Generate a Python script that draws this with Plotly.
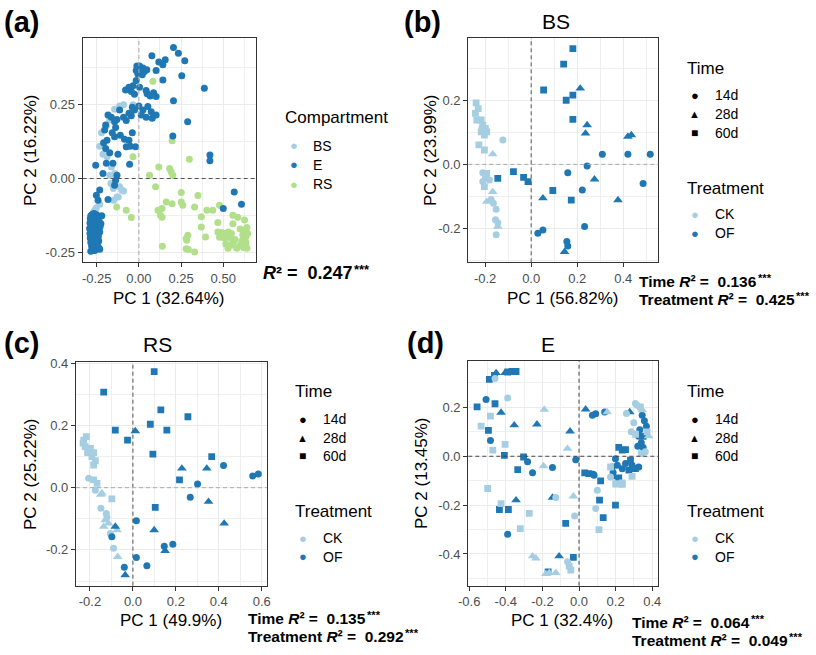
import plotly.graph_objects as go

W, H = 816, 655
FONT = "Liberation Sans, Arial, sans-serif"
C_LIGHT = "#A6CEE3"
C_DARK = "#1F78B4"
C_GREEN = "#B2DF8A"

# ---------------- Panel (a): all compartments ----------------
a_BS = [(-0.144, 0.233), (-0.091, 0.248), (-0.114, 0.244), (-0.035, 0.248), (-0.173, 0.197),
        (-0.193, 0.177), (-0.222, 0.154), (-0.232, 0.109), (-0.213, 0.082), (-0.189, 0.073),
        (-0.163, 0.039), (-0.144, 0.017), (-0.172, 0.011), (-0.166, -0.017), (-0.152, -0.034),
        (-0.114, -0.028), (-0.102, -0.039), (-0.091, -0.042), (-0.122, -0.062), (-0.130, -0.062),
        (-0.150, -0.073), (-0.232, -0.087), (-0.252, -0.098), (-0.261, -0.107), (-0.271, -0.118),
        (-0.268, -0.113), (-0.262, -0.135), (-0.276, -0.186), (-0.262, -0.242), (-0.236, -0.233),
        (-0.276, -0.236)]
a_E = [(0.205, 0.441), (0.234, 0.422), (0.272, 0.396), (0.077, 0.413), (0.118, 0.392), (0.156, 0.400),
       (0.142, 0.383), (0.102, 0.364), (-0.012, 0.379), (0.004, 0.379), (0.024, 0.372), (-0.016, 0.364),
       (0.008, 0.364), (0.033, 0.360), (-0.006, 0.352), (0.020, 0.349), (0.047, 0.366), (0.254, 0.346),
       (0.142, 0.332), (-0.016, 0.330), (-0.035, 0.312), (-0.059, 0.307), (-0.079, 0.298), (-0.045, 0.293),
       (-0.026, 0.284), (0.004, 0.307), (0.043, 0.296), (0.049, 0.285), (0.067, 0.278), (0.087, 0.289),
       (0.102, 0.276), (0.388, 0.304), (0.205, 0.262), (0.000, 0.244), (0.024, 0.231), (0.053, 0.242),
       (0.073, 0.225), (0.102, 0.214), (0.079, 0.203), (0.043, 0.206), (0.014, 0.214), (-0.026, 0.231),
       (-0.039, 0.240), (-0.059, 0.220), (-0.045, 0.211), (-0.075, 0.195), (-0.091, 0.206), (-0.114, 0.231),
       (-0.130, 0.199), (-0.144, 0.191), (-0.163, 0.206), (-0.183, 0.214), (0.289, 0.191), (0.201, 0.143),
       (0.421, 0.079), (0.421, 0.060), (-0.197, 0.180), (-0.203, 0.163), (-0.158, 0.154), (-0.144, 0.141),
       (-0.138, 0.172), (-0.110, 0.146), (-0.085, 0.132), (-0.075, 0.107), (-0.051, 0.109), (-0.020, 0.107),
       (-0.039, 0.154), (-0.059, 0.129), (-0.189, 0.129), (-0.209, 0.120), (-0.197, 0.101), (-0.173, 0.087),
       (-0.124, 0.082), (-0.154, 0.051), (-0.130, 0.011), (-0.193, 0.051), (-0.213, 0.017), (-0.256, 0.045),
       (-0.232, -0.039), (-0.252, -0.056), (-0.242, -0.073), (-0.183, -0.071), (-0.144, -0.023),
       (-0.138, -0.006), (-0.055, 0.048), (0.565, -0.045), (0.608, -0.087), (0.500, -0.101),
       (-0.285, -0.125), (-0.275, -0.120), (-0.265, -0.118), (-0.250, -0.122), (-0.240, -0.128),
       (-0.288, -0.135), (-0.278, -0.140), (-0.262, -0.138), (-0.248, -0.142), (-0.235, -0.145),
       (-0.290, -0.150), (-0.280, -0.155), (-0.268, -0.152), (-0.255, -0.158), (-0.242, -0.160),
       (-0.230, -0.162), (-0.292, -0.168), (-0.282, -0.172), (-0.270, -0.170), (-0.258, -0.175),
       (-0.245, -0.178), (-0.232, -0.180), (-0.290, -0.185), (-0.278, -0.188), (-0.265, -0.190),
       (-0.252, -0.192), (-0.240, -0.195), (-0.288, -0.200), (-0.275, -0.203), (-0.262, -0.205),
       (-0.250, -0.208), (-0.238, -0.210), (-0.285, -0.215), (-0.272, -0.218), (-0.260, -0.220),
       (-0.248, -0.222), (-0.280, -0.228), (-0.268, -0.232), (-0.255, -0.235), (-0.242, -0.230),
       (-0.275, -0.240), (-0.262, -0.242), (-0.232, -0.238), (-0.285, -0.245), (-0.220, -0.125),
       (-0.225, -0.152)]
a_RS = [(0.083, 0.327), (0.197, 0.127), (-0.035, 0.073), (0.299, 0.065), (0.118, 0.039), (0.182, 0.034),
        (0.191, 0.023), (0.201, 0.011), (0.063, 0.011), (0.099, -0.028), (-0.075, -0.107), (-0.045, -0.131),
        (-0.132, -0.096), (0.251, -0.047), (0.350, -0.057), (0.162, -0.079), (0.197, -0.085), (0.113, -0.107),
        (0.137, -0.101), (0.128, -0.124), (0.137, -0.130), (0.251, -0.079), (0.260, -0.090), (0.330, -0.096),
        (0.403, -0.107), (0.438, -0.107), (0.478, -0.090), (0.370, -0.129), (0.468, -0.148), (0.557, -0.124),
        (0.586, -0.130), (0.557, -0.152), (0.626, -0.140), (0.370, -0.163), (0.290, -0.191), (0.280, -0.202),
        (0.283, -0.208), (0.395, -0.197), (0.468, -0.180), (0.490, -0.182), (0.510, -0.185), (0.530, -0.180),
        (0.548, -0.185), (0.478, -0.198), (0.505, -0.200), (0.540, -0.200), (0.600, -0.170), (0.620, -0.175),
        (0.640, -0.165), (0.615, -0.190), (0.635, -0.195), (0.645, -0.185), (0.610, -0.210), (0.635, -0.215),
        (0.600, -0.225), (0.620, -0.232), (0.640, -0.235), (0.580, -0.235), (0.560, -0.215), (0.545, -0.225),
        (0.570, -0.205), (0.515, -0.220), (0.528, -0.235), (0.280, -0.236), (0.330, -0.247), (0.139, -0.228),
        (0.293, -0.239)]
a_xticks = [-0.25, 0.0, 0.25, 0.5]
a_xlabels = ["-0.25", "0.00", "0.25", "0.50"]
a_yticks = [-0.25, 0.0, 0.25]
a_ylabels = ["-0.25", "0.00", "0.25"]

# ---------------- Panel (b): BS ----------------
b_CK_14d = [(-0.213, 0.115), (-0.123, 0.076), (-0.210, -0.026), (-0.199, -0.039), (-0.210, -0.054),
            (-0.181, -0.049), (-0.174, -0.110), (-0.164, -0.122), (-0.152, -0.141), (-0.155, -0.174),
            (-0.145, -0.183), (-0.152, -0.221)]
b_CK_28d = [(-0.167, 0.032), (-0.167, -0.086), (-0.193, -0.117), (-0.145, -0.195)]
b_CK_60d = [(-0.239, 0.193), (-0.230, 0.175), (-0.242, 0.160), (-0.236, 0.139), (-0.217, 0.139),
            (-0.210, 0.123), (-0.199, 0.113), (-0.193, 0.102), (-0.217, 0.102), (-0.203, 0.092),
            (-0.227, 0.061), (-0.203, 0.045), (-0.193, -0.028), (-0.203, -0.070)]
b_OF_14d = [(0.309, 0.032), (0.420, 0.032), (0.517, 0.032), (0.243, -0.005), (0.159, -0.026),
            (0.486, -0.060), (0.222, -0.080), (0.029, -0.216), (0.051, -0.206), (0.232, -0.195),
            (0.155, -0.242), (0.159, -0.256)]
b_OF_28d = [(0.213, 0.238), (0.243, 0.123), (0.236, 0.097), (0.420, 0.087), (0.435, 0.092),
            (0.275, -0.047), (0.377, -0.112), (0.051, -0.106), (0.145, -0.274)]
b_OF_60d = [(0.181, 0.363), (0.141, 0.314), (0.054, 0.233), (0.152, 0.201), (0.181, 0.217),
            (0.181, 0.141), (0.174, -0.112), (0.094, -0.082), (-0.145, -0.044), (-0.077, -0.023),
            (-0.033, -0.041), (-0.014, -0.054)]
b_xticks = [-0.2, 0.0, 0.2, 0.4]
b_xlabels = ["-0.2", "0.0", "0.2", "0.4"]
b_yticks = [-0.2, 0.0, 0.2]
b_ylabels = ["-0.2", "0.0", "0.2"]

# ---------------- Panel (c): RS ----------------
c_CK_14d = [(-0.206, 0.030), (-0.175, -0.008), (-0.149, -0.066), (-0.124, -0.083), (-0.121, -0.094),
            (-0.105, -0.147), (-0.090, -0.195)]
c_CK_28d = [(-0.144, -0.018), (-0.150, -0.022), (-0.129, -0.104), (-0.113, -0.115), (-0.136, -0.125),
            (-0.074, -0.136), (-0.071, -0.222)]
c_CK_60d = [(-0.229, 0.153), (-0.217, 0.164), (-0.222, 0.132), (-0.198, 0.126), (-0.211, 0.113),
            (-0.183, 0.113), (-0.191, 0.100), (-0.175, 0.087), (-0.183, 0.073), (-0.232, 0.143),
            (-0.183, 0.025), (-0.167, 0.014), (-0.098, -0.036)]
c_OF_14d = [(0.422, 0.071), (0.301, 0.012), (0.267, -0.031), (0.558, 0.038), (0.584, 0.044),
            (0.016, -0.106), (-0.098, -0.158), (0.146, -0.188), (0.186, -0.182), (0.016, -0.224),
            (0.065, -0.251), (-0.040, -0.256)]
c_OF_28d = [(0.011, 0.182), (0.228, 0.062), (0.344, 0.062), (0.352, -0.045), (0.099, -0.136),
            (0.425, -0.115), (-0.082, -0.125), (0.150, -0.203), (-0.036, -0.281)]
c_OF_60d = [(0.099, 0.373), (-0.136, 0.307), (0.130, 0.250), (0.256, 0.228), (-0.082, 0.185),
            (0.081, 0.204), (0.158, 0.185), (-0.025, 0.153), (0.093, 0.108), (0.367, 0.100),
            (0.217, 0.025), (0.104, -0.063)]
c_xticks = [-0.2, 0.0, 0.2, 0.4, 0.6]
c_xlabels = ["-0.2", "0.0", "0.2", "0.4", "0.6"]
c_yticks = [-0.2, 0.0, 0.2, 0.4]
c_ylabels = ["-0.2", "0.0", "0.2", "0.4"]

# ---------------- Panel (d): E ----------------
d_CK_14d = [(-0.459, 0.318), (-0.390, 0.239), (-0.127, -0.169), (-0.024, -0.245), (0.100, -0.139),
            (0.091, -0.214), (-0.063, -0.432), (0.308, 0.216), (0.317, 0.209), (0.259, 0.175),
            (0.299, 0.137), (0.285, 0.100), (0.362, 0.018), (0.172, -0.085)]
d_CK_28d = [(-0.190, 0.191), (-0.063, 0.031), (-0.194, -0.040), (-0.031, -0.164), (-0.254, -0.409),
            (-0.236, -0.418), (-0.181, -0.482), (-0.163, -0.477), (-0.127, -0.477), (0.154, 0.181),
            (0.345, 0.189), (0.380, 0.082), (0.209, -0.119)]
d_CK_60d = [(-0.484, 0.164), (-0.535, 0.123), (-0.471, 0.025), (-0.404, 0.049), (-0.499, -0.132),
            (-0.426, -0.194), (-0.272, -0.234), (-0.321, -0.296), (-0.054, -0.450), (-0.045, -0.466),
            (0.109, -0.300), (0.172, -0.044), (0.200, -0.112), (0.236, -0.109), (0.335, 0.202),
            (0.309, 0.090), (0.372, 0.100), (0.340, 0.011), (0.290, -0.082), (0.236, -0.115)]
d_OF_14d = [(-0.508, 0.232), (-0.484, 0.065), (-0.281, -0.023), (-0.254, -0.068), (-0.145, -0.046),
            (-0.018, -0.014), (0.073, 0.168), (0.091, 0.174), (0.140, 0.181), (-0.390, -0.319),
            (0.082, -0.078), (0.078, -0.074), (0.199, -0.010), (0.345, 0.168), (0.357, 0.145),
            (0.368, 0.123), (0.332, 0.109), (0.326, 0.082), (0.340, 0.055), (0.321, 0.041),
            (0.350, 0.036), (0.290, -0.037), (0.236, -0.051), (0.181, -0.044), (0.209, -0.037),
            (0.254, -0.030), (0.186, -0.067), (0.326, -0.044)]
d_OF_28d = [(-0.453, 0.341), (-0.404, 0.341), (-0.381, 0.345), (-0.426, 0.179), (-0.354, 0.127),
            (-0.230, 0.131), (-0.049, 0.102), (0.036, 0.192), (0.277, 0.181), (-0.344, -0.180),
            (-0.145, -0.169), (-0.109, -0.409), (0.190, -0.085)]
d_OF_60d = [(-0.490, 0.315), (-0.462, 0.331), (-0.390, 0.345), (-0.363, 0.347), (-0.344, 0.347),
            (-0.557, 0.202), (-0.459, 0.215), (-0.495, 0.106), (-0.408, 0.004), (-0.303, -0.003),
            (-0.335, -0.055), (-0.435, -0.218), (-0.386, -0.218), (-0.073, -0.275), (-0.031, -0.414),
            (-0.169, -0.473), (0.217, 0.036), (0.236, 0.025), (0.254, 0.027), (0.281, -0.016),
            (0.272, -0.057), (0.308, -0.051), (0.350, 0.082), (0.217, -0.089), (0.031, -0.068),
            (0.054, -0.071), (0.118, -0.101), (0.112, -0.180), (0.132, -0.251), (0.199, -0.200)]
d_xticks = [-0.6, -0.4, -0.2, 0.0, 0.2, 0.4]
d_xlabels = ["-0.6", "-0.4", "-0.2", "0.0", "0.2", "0.4"]
d_yticks = [-0.4, -0.2, 0.0, 0.2]
d_ylabels = ["-0.4", "-0.2", "0.0", "0.2"]

time_levels = ["14d", "28d", "60d"]
treatment_levels = ["CK", "OF"]
compartment_levels = ["BS", "E", "RS"]


def px(x):
    return x / W


def py(y):
    return 1 - y / H


fig = go.Figure()


def add_pts(pts, xr, yr, color, symbol, size):
    fig.add_trace(go.Scatter(
        x=[p[0] for p in pts], y=[p[1] for p in pts], mode="markers",
        xaxis=xr, yaxis=yr, showlegend=False, hoverinfo="skip",
        marker=dict(color=color, symbol=symbol, size=size, line=dict(width=0))))


SYM = {"14d": ("circle", 7), "28d": ("triangle-up", 8.5), "60d": ("square", 6.8)}

# panel a
add_pts(a_BS, "x", "y", C_LIGHT, "circle", 7)
add_pts(a_RS, "x", "y", C_GREEN, "circle", 7)
add_pts(a_E, "x", "y", C_DARK, "circle", 7)

panel_groups = {
    ("x2", "y2"): [(b_CK_14d, b_CK_28d, b_CK_60d), (b_OF_14d, b_OF_28d, b_OF_60d)],
    ("x3", "y3"): [(c_CK_14d, c_CK_28d, c_CK_60d), (c_OF_14d, c_OF_28d, c_OF_60d)],
}
for (xr, yr), (ck, of) in panel_groups.items():
    for grp, col in ((ck, C_LIGHT), (of, C_DARK)):
        for pts, t in zip(grp, time_levels):
            add_pts(pts, xr, yr, col, *SYM[t])
# panel d: OF first, CK on top
for grp, col in (((d_OF_14d, d_OF_28d, d_OF_60d), C_DARK), ((d_CK_14d, d_CK_28d, d_CK_60d), C_LIGHT)):
    for pts, t in zip(grp, time_levels):
        add_pts(pts, "x4", "y4", col, *SYM[t])


def minor_vals(ticks, rng):
    step = ticks[1] - ticks[0]
    vals = [t + step / 2 for t in [ticks[0] - step] + ticks]
    return [v for v in vals if rng[0] <= v <= rng[1]]


def axis(dom, anchor, rng, ticks, labels):
    return dict(domain=dom, anchor=anchor, range=list(rng), tickmode="array", automargin=False,
                tickvals=ticks, ticktext=labels, showgrid=True, gridcolor="#EBEBEB",
                gridwidth=1, zeroline=False, showline=True, mirror=True,
                linecolor="#333333", linewidth=1.2, ticks="outside", ticklen=4,
                tickwidth=1, tickcolor="#333333",
                tickfont=dict(family=FONT, size=13, color="#4D4D4D"),
                minor=dict(tickvals=minor_vals(ticks, rng), showgrid=True,
                           gridcolor="#EFEFEF", gridwidth=0.6))


boxes = {  # left, top, right, bottom in px
    "a": (82.7, 37.7, 256.0, 262.0),
    "b": (468.3, 37.7, 658.3, 262.3),
    "c": (76.0, 361.7, 266.7, 585.7),
    "d": (468.3, 361.0, 658.3, 585.7),
}
ranges = {
    "a": ((-0.333, 0.694), (-0.281, 0.474)),
    "b": ((-0.273, 0.552), (-0.307, 0.397)),
    "c": ((-0.265, 0.623), (-0.315, 0.405)),
    "d": ((-0.605, 0.433), (-0.530, 0.390)),
}
ticks = {
    "a": (a_xticks, a_xlabels, a_yticks, a_ylabels),
    "b": (b_xticks, b_xlabels, b_yticks, b_ylabels),
    "c": (c_xticks, c_xlabels, c_yticks, c_ylabels),
    "d": (d_xticks, d_xlabels, d_yticks, d_ylabels),
}
layout_axes = {}
for i, k in enumerate("abcd"):
    sfx = "" if i == 0 else str(i + 1)
    l, t, r, b = boxes[k]
    xt, xl, yt, yl = ticks[k]
    layout_axes["xaxis" + sfx] = axis([px(l), px(r)], "y" + sfx, ranges[k][0], xt, xl)
    layout_axes["yaxis" + sfx] = axis([py(b), py(t)], "x" + sfx, ranges[k][1], yt, yl)

# dashed zero lines (vertical colour, horizontal colour)
zero_cols = {"a": ("#AAAAAA", "#555555"), "b": ("#555555", "#AAAAAA"),
             "c": ("#555555", "#AAAAAA"), "d": ("#444444", "#444444")}
shapes = []
for i, k in enumerate("abcd"):
    sfx = "" if i == 0 else str(i + 1)
    vc, hc = zero_cols[k]
    shapes.append(dict(type="line", xref="x" + sfx, yref="y" + sfx + " domain", x0=0, x1=0, y0=0, y1=1,
                       line=dict(color=vc, width=1, dash="4px,3px"), layer="above"))
    shapes.append(dict(type="line", xref="x" + sfx + " domain", yref="y" + sfx, x0=0, x1=1, y0=0, y1=0,
                       line=dict(color=hc, width=1, dash="4px,3px"), layer="above"))

ann = []


def txt(x, y, s, size, xanchor="left", color="black", angle=0, family=FONT):
    ann.append(dict(x=px(x), y=py(y), xref="paper", yref="paper", text=s, showarrow=False,
                    xanchor=xanchor, yanchor="middle", textangle=angle,
                    font=dict(family=family, size=size, color=color)))


NB = "\u00a0"
# Arial/Liberation Sans Bold advance widths (em) used to place the significance stars
BOLD_W = {".": 0.278, " ": 0.278, NB: 0.278, "T": 0.611, "i": 0.278, "m": 0.889, "e": 0.556,
          "r": 0.389, "a": 0.556, "t": 0.333, "n": 0.611, "R": 0.722, "²": 0.333, "=": 0.584}


def bold_width(s, size):
    return sum(BOLD_W.get(ch, 0.556) for ch in s) * size


def stat_line(x, y, label, value, size):
    plain = label + "R²" + NB + "=" + NB + NB + value
    html = "<b>" + label + "<i>R</i>²" + NB + "=" + NB + NB + value + "</b>"
    txt(x, y, html, size)
    txt(x + 1 + bold_width(plain, size), y - size * 0.2, "<b>***</b>", size * 0.72)


# panel letters and titles
for lab, (x, y) in {"(a)": (2, 22), "(b)": (402, 22), "(c)": (2, 343), "(d)": (405, 343)}.items():
    txt(x, y, "<b>" + lab + "</b>", 29)
txt(556, 22, "BS", 21, "center")
txt(157, 344, "RS", 21, "center")
txt(548, 344, "E", 21, "center")

# axis titles
ax_titles = [("PC 1 (32.64%)", 169.3, 298, 0), ("PC 2 (16.22%)", 31, 150, -90),
             ("PC 1 (56.82%)", 563, 298, 0), ("PC 2 (23.99%)", 431, 150, -90),
             ("PC 1 (49.9%)", 170.5, 620, 0), ("PC 2 (25.22%)", 30, 474, -90),
             ("PC 1 (32.4%)", 562, 620, 0), ("PC 2 (13.45%)", 421, 473, -90)]
for s, x, y, a in ax_titles:
    txt(x, y, s, 17, "center", angle=a)

# R2 statistics
stat_line(261, 273, "", "0.247", 18)
stats = [(637, 281, "0.136", "0.425"), (246, 618, "0.135", "0.292"), (630, 622, "0.064", "0.049")]
for x, y, r_time, r_trt in stats:
    stat_line(x, y, "Time ", r_time, 15.5)
    stat_line(x, y + 18, "Treatment ", r_trt, 15.5)

# legends
GLYPH = {"14d": ("●", 13), "28d": ("▲", 11), "60d": ("■", 12)}
txt(283, 118, "Compartment", 17)
for lev, col, y in zip(compartment_levels, (C_LIGHT, C_DARK, C_GREEN), (145.7, 164.5, 184)):
    txt(294, y, "●", 13, "center", color=col)
    txt(311, y, lev, 14)

leg_pos = [(685, 68, 95.5, 114.3, 133, 188, 214.5, 233),
           (293, 391.7, 419.3, 437.6, 456.3, 511.7, 538.3, 556.7),
           (685, 391.7, 419.3, 437.6, 456.3, 511.7, 538.3, 556.7)]
for x, yt, y1, y2, y3, yt2, yc, yo in leg_pos:
    txt(x, yt, "Time", 17)
    for lev, y in zip(time_levels, (y1, y2, y3)):
        g, gs = GLYPH[lev]
        txt(x + 9.5, y, g, gs, "center")
        txt(x + 28, y, lev, 14)
    txt(x, yt2, "Treatment", 17)
    for lev, col, y in zip(treatment_levels, (C_LIGHT, C_DARK), (yc, yo)):
        txt(x + 9.5, y, "●", 13, "center", color=col)
        txt(x + 28, y, lev, 14)

fig.update_layout(width=W, height=H, autosize=False, margin=dict(l=0, r=0, t=0, b=0, pad=0),
                  paper_bgcolor="white", plot_bgcolor="white", showlegend=False,
                  font=dict(family=FONT), shapes=shapes, annotations=ann, **layout_axes)
fig.write_html("out.html")
